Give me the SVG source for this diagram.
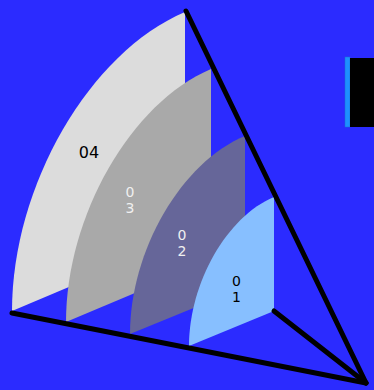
<svg xmlns="http://www.w3.org/2000/svg" width="374" height="390" viewBox="0 0 374 390">
<style>
.lbl{font-family:"DejaVu Sans",sans-serif;font-size:14px;text-anchor:middle}
.big{font-size:16px}
.dark{fill:#000}
.light{fill:#f0f0f0}
.edge{stroke:#000;stroke-width:5;fill:none;stroke-linecap:round}
</style>
<rect width="374" height="390" fill="#2b2bff"/>
<g id="layer04">
<path d="M185,238 L12,311 C12,186.2 89.5,52.3 185,12 Z" fill="#dcdcdc"/>
<text class="lbl big dark" x="89" y="158">04</text>
</g>
<g id="layer03">
<path d="M211,261 L66,322 C66,216 130.9,102.7 211,69 Z" fill="#a9a9a9"/>
<text class="lbl light" x="130" y="197">0</text>
<text class="lbl light" x="130" y="213">3</text>
</g>
<g id="layer02">
<path d="M245,287 L130,334 C130,250.6 181.5,162 245,136 Z" fill="#666699"/>
<text class="lbl light" x="182" y="240">0</text>
<text class="lbl light" x="182" y="256">2</text>
</g>
<g id="layer01">
<path d="M274,311 L189,346 C189,283 227.1,216.3 274,197 Z" fill="#87bfff"/>
<text class="lbl dark" x="236.5" y="286">0</text>
<text class="lbl dark" x="236.5" y="302">1</text>
</g>
<g id="connectors">
<line class="edge" x1="12" y1="313" x2="366" y2="383"/>
<line class="edge" x1="186" y1="11" x2="366" y2="383"/>
<line class="edge" x1="274" y1="311" x2="366" y2="383"/>
</g>
<g id="legend">
<rect x="345" y="57" width="5" height="70" fill="#1e90ff" stroke="#1a6fd0" stroke-width="0.5"/>
<rect x="350" y="58" width="30" height="69" fill="#000"/>
</g>
</svg>
